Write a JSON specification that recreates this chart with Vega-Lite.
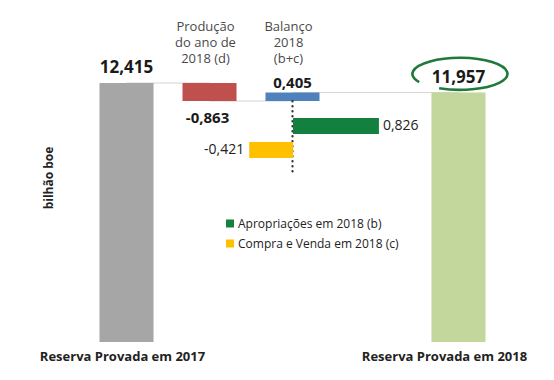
{
  "$schema": "https://vega.github.io/schema/vega-lite/v6.json",
  "autosize": {"type": "none"},
  "width": 415,
  "height": 276,
  "padding": {"left": 85, "top": 66, "right": 54, "bottom": 38},
  "background": "white",
  "title": {"text": "bilhão boe", "orient": "left", "anchor": "middle", "frame": "group", "fontSize": 12, "fontWeight": "bold", "color": "#222222", "offset": 0, "dy": 17, "dx": 26},
  "config": {"view": {"stroke": null}, "font": "Open Sans"},
  "datasets": {
    "cascata": [
      {"etapa": "Reserva Provada em 2017", "inicio": 0, "fim": 12.415, "rotulo": "12,415"},
      {"etapa": "Produção do ano de 2018 (d)", "inicio": 12.415, "fim": 11.552, "rotulo": "-0,863"},
      {"etapa": "Balanço 2018 (b+c)", "inicio": 11.552, "fim": 11.957, "rotulo": "0,405"},
      {"etapa": "Reserva Provada em 2018", "inicio": 0, "fim": 11.957, "rotulo": "11,957"}
    ],
    "ligacoes": [
      {"de": "Reserva Provada em 2017", "para": "Produção do ano de 2018 (d)", "nivel": 12.415},
      {"de": "Produção do ano de 2018 (d)", "para": "Balanço 2018 (b+c)", "nivel": 11.552},
      {"de": "Balanço 2018 (b+c)", "para": "Reserva Provada em 2018", "nivel": 11.957}
    ],
    "eixo": [
      {"etapa": "Balanço 2018 (b+c)", "topo": 11.552, "base": 8.15}
    ],
    "balanco": [
      {"item": "Apropriações em 2018 (b)", "valor": 0.826, "rotulo": "0,826"},
      {"item": "Compra e Venda em 2018 (c)", "valor": -0.421, "rotulo": "-0,421"}
    ]
  },
  "layer": [
    {
      "resolve": {"axis": {"x": "independent"}},
      "layer": [
        {
          "data": {"name": "ligacoes"},
          "mark": {"type": "rule", "color": "#d4d4d4", "strokeWidth": 1},
          "encoding": {
            "x": {"field": "de", "type": "nominal",
              "scale": {"domain": ["Reserva Provada em 2017", "Produção do ano de 2018 (d)", "Balanço 2018 (b+c)", " ", "Reserva Provada em 2018"], "paddingInner": 0.349, "paddingOuter": 0.1747},
              "axis": {"orient": "top", "title": null, "ticks": false, "domain": false,
                "labelExpr": "datum.value == 'Produção do ano de 2018 (d)' ? ['Produção','do ano de','2018 (d)'] : datum.value == 'Balanço 2018 (b+c)' ? ['Balanço','2018','(b+c)'] : ''",
                "labelAngle": 0, "labelFontSize": 13, "labelColor": "#4a4a4a", "labelLineHeight": 16,
                "labelPadding": 33, "labelOffset": -4, "labelOverlap": false, "labelBound": false, "labelFlush": false, "labelLimit": 0}},
            "x2": {"field": "para"},
            "y": {"field": "nivel", "type": "quantitative", "scale": {"domain": [0, 13.23], "nice": false}, "axis": null}
          }
        },
        {
          "data": {"name": "cascata"},
          "mark": {"type": "bar"},
          "encoding": {
            "x": {"field": "etapa", "type": "nominal",
              "axis": {"orient": "bottom", "title": null, "ticks": false, "domain": false,
                "labelExpr": "datum.value == 'Reserva Provada em 2017' || datum.value == 'Reserva Provada em 2018' ? datum.label : ''",
                "labelAngle": 0, "labelFontSize": 13, "labelFontWeight": "bold", "labelColor": "#222222",
                "labelPadding": 8, "labelOverlap": false, "labelBound": false, "labelFlush": false, "labelLimit": 0,
                "labelOffset": {"condition": {"test": "datum.value == 'Reserva Provada em 2018'", "value": -14}, "value": -4}}},
            "y": {"field": "inicio", "type": "quantitative", "axis": null},
            "y2": {"field": "fim"},
            "color": {"field": "etapa", "type": "nominal", "legend": null,
              "scale": {"domain": ["Reserva Provada em 2017", "Produção do ano de 2018 (d)", "Balanço 2018 (b+c)", "Reserva Provada em 2018"],
                "range": ["#a6a6a6", "#c0504d", "#4f81bd", "#c3d69b"]}}
          }
        },
        {
          "data": {"name": "eixo"},
          "mark": {"type": "rule", "color": "#333333", "strokeWidth": 2.2, "strokeDash": [0.5, 4.5], "strokeCap": "round"},
          "encoding": {
            "x": {"field": "etapa", "type": "nominal", "axis": null},
            "y": {"field": "topo", "type": "quantitative", "axis": null},
            "y2": {"field": "base"}
          }
        },
        {
          "data": {"name": "cascata"},
          "transform": [{"filter": "datum.etapa == 'Reserva Provada em 2017' || datum.etapa == 'Reserva Provada em 2018'"}],
          "mark": {"type": "text", "fontSize": 17, "fontWeight": "bold", "color": "#1a1a1a", "baseline": "alphabetic", "dy": -10},
          "encoding": {
            "x": {"field": "etapa", "type": "nominal", "axis": null},
            "y": {"field": "fim", "type": "quantitative", "axis": null},
            "text": {"field": "rotulo"}
          }
        },
        {
          "data": {"name": "cascata"},
          "transform": [{"filter": "datum.etapa == 'Balanço 2018 (b+c)'"}],
          "mark": {"type": "text", "fontSize": 15, "fontWeight": "bold", "color": "#1a1a1a", "baseline": "alphabetic", "dy": -5},
          "encoding": {
            "x": {"field": "etapa", "type": "nominal", "axis": null},
            "y": {"field": "fim", "type": "quantitative", "axis": null},
            "text": {"field": "rotulo"}
          }
        },
        {
          "data": {"name": "cascata"},
          "transform": [{"filter": "datum.etapa == 'Produção do ano de 2018 (d)'"}],
          "mark": {"type": "text", "fontSize": 15, "fontWeight": "bold", "color": "#1a1a1a", "baseline": "alphabetic", "dy": 22, "dx": -2},
          "encoding": {
            "x": {"field": "etapa", "type": "nominal", "axis": null},
            "y": {"field": "fim", "type": "quantitative", "axis": null},
            "text": {"field": "rotulo"}
          }
        },
        {
          "data": {"name": "cascata"},
          "transform": [{"filter": "datum.etapa == 'Reserva Provada em 2018'"}],
          "mark": {"type": "point", "shape": "M-0.87,0.17 A1,0.337 0 1,1 -0.45,0.30", "size": 9025, "filled": false, "stroke": "#1f7a3a", "strokeWidth": 2.6, "opacity": 1, "yOffset": -18.6, "xOffset": 2},
          "encoding": {
            "x": {"field": "etapa", "type": "nominal", "axis": null},
            "y": {"field": "fim", "type": "quantitative", "axis": null}
          }
        }
      ]
    },
    {
      "data": {"name": "balanco"},
      "layer": [
        {
          "mark": {"type": "bar"},
          "encoding": {
            "x": {"field": "valor", "type": "quantitative", "scale": {"domain": [-2, 1.99], "nice": false}, "axis": null},
            "y": {"field": "item", "type": "nominal", "axis": null,
              "scale": {"domain": ["Apropriações em 2018 (b)", "Compra e Venda em 2018 (c)"], "range": [52, 92], "paddingInner": 0.333, "paddingOuter": 0}},
            "color": {"field": "item", "type": "nominal",
              "scale": {"domain": ["Apropriações em 2018 (b)", "Compra e Venda em 2018 (c)"], "range": ["#13803f", "#ffc000"]},
              "legend": {"orient": "none", "legendX": 139, "legendY": 151.5, "title": null, "padding": 0,
                "symbolType": "square", "symbolSize": 64, "symbolStrokeWidth": 0, "labelFontSize": 12, "labelColor": "#222222",
                "labelOffset": 2, "rowPadding": 8, "labelLimit": 0}}
          }
        },
        {
          "transform": [{"filter": "datum.valor > 0"}],
          "mark": {"type": "text", "align": "left", "baseline": "middle", "dx": 4, "fontSize": 14, "color": "#222222"},
          "encoding": {
            "x": {"field": "valor", "type": "quantitative", "axis": null},
            "y": {"field": "item", "type": "nominal", "axis": null},
            "text": {"field": "rotulo"}
          }
        },
        {
          "transform": [{"filter": "datum.valor < 0"}],
          "mark": {"type": "text", "align": "right", "baseline": "middle", "dx": -5, "fontSize": 14, "color": "#222222"},
          "encoding": {
            "x": {"field": "valor", "type": "quantitative", "axis": null},
            "y": {"field": "item", "type": "nominal", "axis": null},
            "text": {"field": "rotulo"}
          }
        }
      ]
    }
  ],
  "resolve": {"scale": {"x": "independent", "y": "independent", "color": "independent"}}
}
